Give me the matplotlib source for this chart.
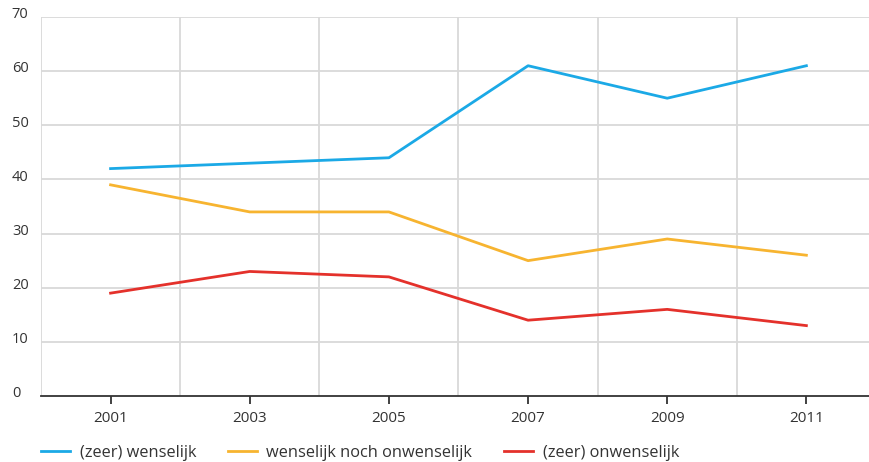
import matplotlib.pyplot as plt
from matplotlib.transforms import ScaledTranslation

plt.rcParams['font.family'] = ['Open Sans', 'DejaVu Sans']

years = [2001, 2003, 2005, 2007, 2009, 2011]
wenselijk = [42, 43, 44, 61, 55, 61]
neutraal = [39, 34, 34, 25, 29, 26]
onwenselijk = [19, 23, 22, 14, 16, 13]
labels = ['(zeer) wenselijk', 'wenselijk noch onwenselijk', '(zeer) onwenselijk']
colors = ['#1ba9e6', '#f7b430', '#e4312b']
text_color = '#333333'

fig = plt.figure(figsize=(8.69, 4.62), dpi=100)
ax = fig.add_axes([41 / 869, 66 / 462, 828 / 869, 379 / 462])

for vals, lab, col in zip([wenselijk, neutraal, onwenselijk], labels, colors):
    ax.plot(years, vals, color=col, linewidth=2, label=lab, zorder=3)

ax.set_xlim(2000, 2011.9)
ax.set_ylim(0, 70)

# grid: horizontal at every 10, vertical at even years
for y in range(10, 71, 10):
    ax.axhline(y, color='#d9d9d9', linewidth=1.3, zorder=1)
for x in range(2000, 2011, 2):
    ax.axvline(x, color='#d9d9d9', linewidth=1.3, zorder=1)

for s in ['top', 'right', 'left']:
    ax.spines[s].set_visible(False)
ax.spines['bottom'].set_color('#333333')
ax.spines['bottom'].set_linewidth(1.3)
ax.spines['bottom'].set_zorder(4)

ax.set_xticks(years)
ax.set_xticklabels([str(y) for y in years])
ax.tick_params(axis='x', length=6, width=1.3, color='#333333', pad=5,
               labelsize=11, labelcolor=text_color)

ax.set_yticks(range(0, 71, 10))
ax.tick_params(axis='y', length=0, pad=21, labelsize=10.5, labelcolor=text_color)
for lbl in ax.get_yticklabels():
    lbl.set_horizontalalignment('left')
    lbl.set_transform(lbl.get_transform() + ScaledTranslation(0, 3 / 72, fig.dpi_scale_trans))

fig.legend(loc='center left', bbox_to_anchor=(41 / 869, 1 - 453 / 462), ncol=3,
           frameon=False, fontsize=11.8, handlelength=1.75, handletextpad=0.6,
           columnspacing=1.95, borderpad=0, borderaxespad=0, labelcolor=text_color)

fig.savefig('out.png', dpi=100)
